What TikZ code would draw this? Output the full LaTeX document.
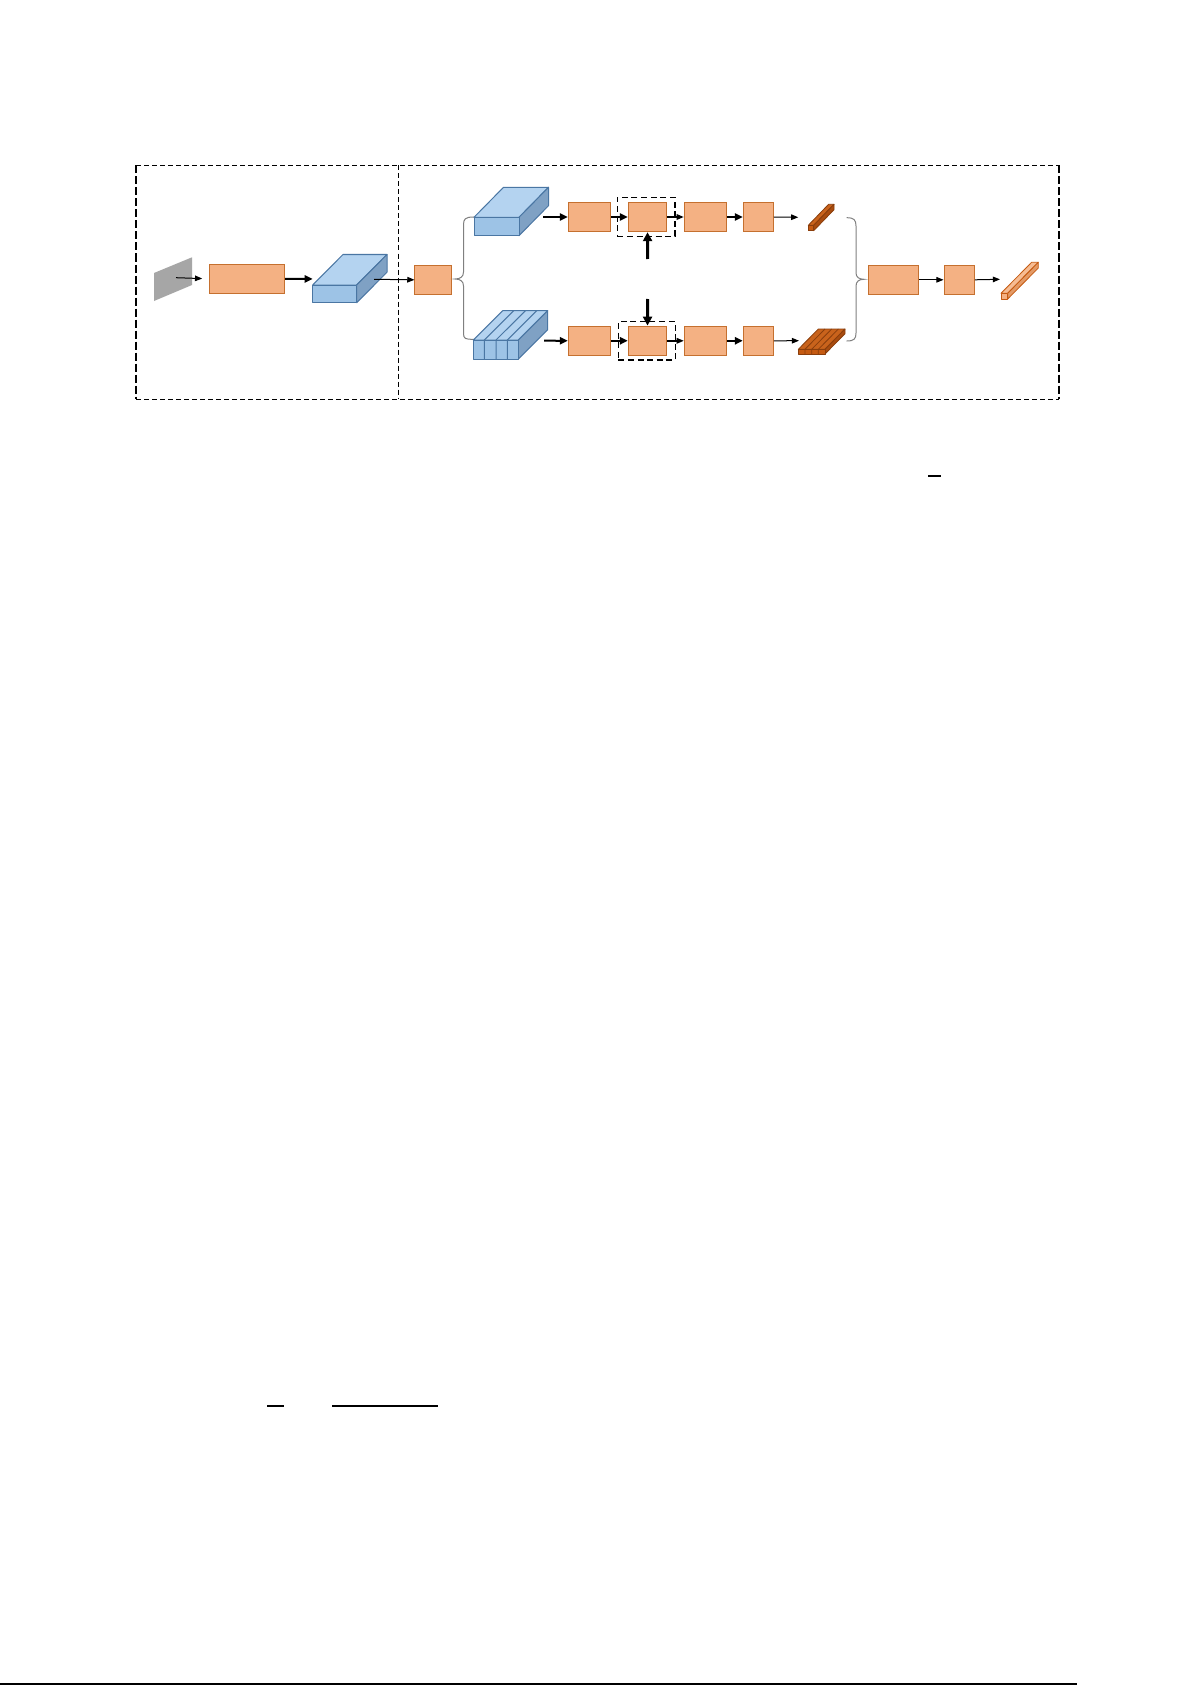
\documentclass[tikz,border=0pt]{standalone}
\usetikzlibrary{arrows.meta}
\definecolor{orfill}{HTML}{F4B183}
\definecolor{orline}{HTML}{C5702F}
\definecolor{bluefront}{HTML}{9DC3E6}
\definecolor{bluetop}{HTML}{B4D3F0}
\definecolor{blueside}{HTML}{7FA1C4}
\definecolor{blueline}{HTML}{4A76A3}
\definecolor{rodfront}{HTML}{C55A11}
\definecolor{rodtop}{HTML}{C9631C}
\definecolor{rodside}{HTML}{A94C0F}
\definecolor{rodline}{HTML}{8A3E0C}
\definecolor{orodfront}{HTML}{F4B183}
\definecolor{orodtop}{HTML}{F6BC93}
\definecolor{orodside}{HTML}{E39A66}
\definecolor{orodline}{HTML}{C55A11}
\definecolor{imggray}{HTML}{A6A6A6}
\definecolor{bracegray}{HTML}{808080}
\newcommand{\cuboid}[8]{%
  \draw[draw=#7line, fill=#7top, line width=#8, line join=round] (#1,#2) -- (#3,#2) -- ({#3+#5},{#2+#6}) -- ({#1+#5},{#2+#6}) -- cycle;
  \draw[draw=#7line, fill=#7side, line width=#8, line join=round] (#3,#2) -- ({#3+#5},{#2+#6}) -- ({#3+#5},{#4+#6}) -- (#3,#4) -- cycle;
  \draw[draw=#7line, fill=#7front, line width=#8, line join=round] (#1,#2) rectangle (#3,#4);
}
\tikzset{
  obox/.style={draw=orline, fill=orfill, line width=0.5pt, inner sep=0pt, minimum height=14.5pt},
  dbox/.style={draw=black, line width=0.75pt, dash pattern=on 3pt off 1.8pt, inner sep=0pt},
  thickarr/.style={line width=1pt, -{Triangle[length=4pt,width=3.6pt]}},
  thinarr/.style={line width=0.5pt, -{Triangle[length=3.6pt,width=2.8pt]}},
  vertarr/.style={line width=1.5pt, -{Triangle[length=4.5pt,width=4.5pt]}},
  bracestyle/.style={draw=bracegray, line width=0.5pt},
  strayline/.style={line width=0.7pt}
}
\begin{document}
\begin{tikzpicture}[x=0.5pt,y=-0.5pt]
\useasboundingbox (0,0) rectangle (1192,1685);
\fill[white] (0,0) rectangle (1192,1685);

% frame
\draw[line width=0.5pt, dash pattern=on 2.5pt off 1.5pt] (136,165.5) -- (1059.3,165.5);
\draw[line width=0.5pt, dash pattern=on 2.5pt off 1.5pt] (136,399) -- (1059.3,399);
\draw[line width=0.85pt, dash pattern=on 4pt off 1.5pt] (136,165.5) -- (136,399);
\draw[line width=0.85pt, dash pattern=on 4pt off 1.5pt] (1059.3,165.5) -- (1059.3,399);
\draw[line width=0.5pt, dash pattern=on 2.5pt off 1.5pt] (398.7,165.5) -- (398.7,399);

% input image
\fill[imggray] (154,273) -- (192,257.3) -- (192,285) -- (154,301) -- cycle;
\coordinate (g) at (176,277.7);

% first stage boxes
\node[obox, minimum width=37.7pt] (b1) at (247,278.8) {};
\cuboid{312.7}{285}{356.7}{302.7}{30.3}{-30.5}{blue}{0.5pt}
\coordinate (cb1in) at (312.7,279);
\coordinate (cb1out) at (374,279.3);
\node[obox, minimum width=18.35pt] (b2) at (433.3,279.8) {};

% left brace
\draw[bracestyle] (474,217) .. controls (465,217) and (463.5,219) .. (463.5,225) -- (463.5,272)
  .. controls (463.5,277) and (460,279) .. (455,279)
  .. controls (460,279) and (463.5,281) .. (463.5,286) -- (463.5,333)
  .. controls (463.5,339) and (465,339.3) .. (474,339.3);

% top blue block
\cuboid{474}{217.3}{519}{235.7}{29.5}{-30}{blue}{0.5pt}
\coordinate (tbout) at (543.3,217);
% lower sliced blue block
\cuboid{473.3}{340}{518.3}{359}{29.4}{-29.3}{blue}{0.5pt}
\foreach \xx in {484.3,496,507.3} {
  \draw[blueline, line width=0.5pt] (\xx,359) -- (\xx,340) -- ({\xx+29.4},310.7);
}
\coordinate (lbout) at (544,340.7);

% dashed boxes
\node[dbox, minimum width=28.85pt, minimum height=19.5pt] (dtop) at (646.15,216.8) {};
\node[dbox, minimum width=28.5pt, minimum height=19.15pt] (dlow) at (646.8,340.85) {};

% top row
\node[obox, minimum width=21.2pt, minimum height=14.7pt] (A) at (589.5,217) {};
\node[obox, minimum width=19.2pt, minimum height=14.7pt] (B) at (647.5,217) {};
\node[obox, minimum width=21.2pt, minimum height=14.7pt] (C) at (705.5,217) {};
\node[obox, minimum width=15pt, minimum height=14.7pt] (D) at (758.3,217) {};
% lower row
\node[obox, minimum width=21.2pt, minimum height=14.7pt] (A2) at (589.5,340.8) {};
\node[obox, minimum width=19.2pt, minimum height=14.7pt] (B2) at (647.5,340.8) {};
\node[obox, minimum width=21.2pt, minimum height=14.7pt] (C2) at (705.5,340.8) {};
\node[obox, minimum width=15pt, minimum height=14.7pt] (D2) at (758.3,340.8) {};

% rods
\cuboid{808.3}{225.3}{813.7}{230.7}{20.3}{-21}{rod}{0.4pt}
\coordinate (trin) at (798.3,217.3);
\cuboid{798.3}{349.3}{825}{354}{20}{-20.3}{rod}{0.4pt}
\foreach \k in {1,2,3} {
  \pgfmathsetmacro{\xx}{798.3+6.675*\k}
  \draw[rodline, line width=0.4pt] (\xx,354) -- (\xx,349.3) -- ({\xx+20},329);
}
\coordinate (lrin) at (799,340.7);

% right brace
\draw[bracestyle] (846.7,217.7) .. controls (854,217.7) and (856,220) .. (856,226) -- (856,273)
  .. controls (856,277) and (859,279.3) .. (864,279.3)
  .. controls (859,279.3) and (856,281.5) .. (856,286) -- (856,333)
  .. controls (856,339) and (854,341) .. (846.7,341);

% final stage
\node[obox, minimum width=25pt] (E) at (893.3,279.8) {};
\node[obox, minimum width=15.15pt] (F) at (959.2,279.8) {};
\cuboid{1001}{293.3}{1007.7}{299}{30.6}{-31}{orod}{0.4pt}
\coordinate (orin) at (1000,279.3);

% vertical arrow sources
\coordinate (vup) at (647.7,259);
\coordinate (vdn) at (647.7,299);

% connectors
\draw[thinarr, shorten >=3.3pt] (g) -- (b1.west);
\draw[thickarr] (b1.east) -- (cb1in);
\draw[thinarr] (cb1out) -- (b2.west);

\draw[thickarr] (tbout) -- (A.west);
\draw[thickarr] (A.east) -- (B.west);
\draw[thinarr, line width=0.7pt] (B.east) -- (C.west);
\draw[thickarr] (C.east) -- (D.west);
\draw[thinarr] (D.east) -- (trin);

\draw[thickarr] (lbout) -- (A2.west);
\draw[thickarr] (A2.east) -- (B2.west);
\draw[thinarr, line width=0.7pt] (B2.east) -- (C2.west);
\draw[thickarr] (C2.east) -- (D2.west);
\draw[thinarr] (D2.east) -- (lrin);

\draw[vertarr] (vup) -- (B.south);
\draw[vertarr] (vdn) -- (B2.north);

\draw[thinarr] (E.east) -- (F.west);
\draw[thinarr] (F.east) -- (orin);

% stray page marks
\draw[strayline] (928,476) -- (941,476);
\draw[strayline] (267,1406) -- (284,1406);
\draw[strayline] (332,1406) -- (438,1406);
\draw[line width=0.8pt] (0,1684) -- (1077,1684);
\end{tikzpicture}
\end{document}
